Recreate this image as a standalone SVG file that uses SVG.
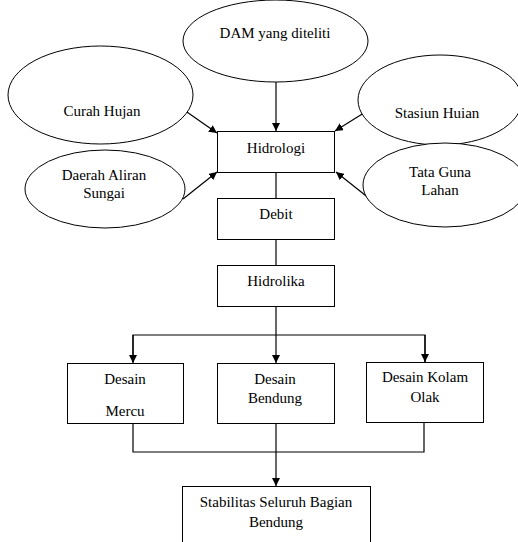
<svg xmlns="http://www.w3.org/2000/svg" width="518" height="542" viewBox="0 0 518 542">
<defs>
<marker id="ah" viewBox="0 0 10 10" refX="10" refY="5" markerWidth="8" markerHeight="8" markerUnits="userSpaceOnUse" orient="auto">
<path d="M0,0 L10,5 L0,10 z" fill="#000"/>
</marker>
<style>
text{font-size:15px;fill:#000;text-anchor:middle}
.n{fill:#fff;stroke:#000;stroke-width:1}
.c{fill:none;stroke:#000;stroke-width:1.2}
.a{marker-end:url(#ah)}
</style>
</defs>
<rect width="518" height="542" fill="#fff"/>
<g id="connectors">
<line class="c a" x1="276" y1="82" x2="276" y2="131"/>
<line class="c a" x1="184" y1="110" x2="217" y2="133"/>
<line class="c a" x1="367" y1="111" x2="335" y2="131"/>
<line class="c a" x1="183" y1="199" x2="217" y2="172"/>
<line class="c a" x1="370" y1="199" x2="336" y2="172"/>
<line class="c" x1="276" y1="172" x2="276" y2="198"/>
<line class="c" x1="276" y1="239" x2="276" y2="265"/>
<polyline class="c" points="276,306 276,335"/>
<polyline class="c" points="133,362 133,335 425,335 425,362"/>
<line class="c a" x1="133" y1="335" x2="133" y2="363"/>
<line class="c a" x1="276" y1="335" x2="276" y2="363"/>
<line class="c a" x1="425" y1="335" x2="425" y2="362"/>
<polyline class="c" points="133,423 133,452 424,452 424,422"/>
<line class="c a" x1="276" y1="423" x2="276" y2="486"/>
</g>
<g font-family="'Liberation Serif', 'DejaVu Serif', serif">
<g id="dam"><ellipse class="n" cx="275.5" cy="41" rx="92.5" ry="41"/><text x="275" y="38">DAM yang diteliti</text></g>
<g id="curah"><ellipse class="n" cx="100.5" cy="95" rx="92.5" ry="49"/><text x="102" y="116">Curah Hujan</text></g>
<g id="stasiun"><ellipse class="n" cx="440" cy="100" rx="82" ry="45"/><text x="437" y="118">Stasiun Huian</text></g>
<g id="daerah"><ellipse class="n" cx="105" cy="189" rx="80" ry="39"/><text x="104" y="180">Daerah Aliran</text><text x="104" y="198">Sungai</text></g>
<g id="tata"><ellipse class="n" cx="445" cy="185" rx="82" ry="42"/><text x="440" y="177">Tata Guna</text><text x="440" y="195">Lahan</text></g>
<g id="hidrologi"><rect class="n" x="217.5" y="131.5" width="117" height="41"/><text x="276" y="153">Hidrologi</text></g>
<g id="debit"><rect class="n" x="217.5" y="198.5" width="117" height="41"/><text x="276" y="219">Debit</text></g>
<g id="hidrolika"><rect class="n" x="217.5" y="265.5" width="117" height="41"/><text x="276" y="286">Hidrolika</text></g>
<g id="mercu"><rect class="n" x="67.5" y="363.5" width="116" height="60"/><text x="125" y="384">Desain</text><text x="125" y="416">Mercu</text></g>
<g id="bendung"><rect class="n" x="217.5" y="363.5" width="117" height="60"/><text x="275" y="384">Desain</text><text x="275" y="403">Bendung</text></g>
<g id="kolam"><rect class="n" x="366.5" y="362.5" width="117" height="60"/><text x="425" y="382">Desain Kolam</text><text x="425" y="402">Olak</text></g>
<g id="stabilitas"><rect class="n" x="182.5" y="486.5" width="188" height="70"/><text x="276" y="507">Stabilitas Seluruh Bagian</text><text x="276" y="527">Bendung</text></g>
</g>
</svg>
